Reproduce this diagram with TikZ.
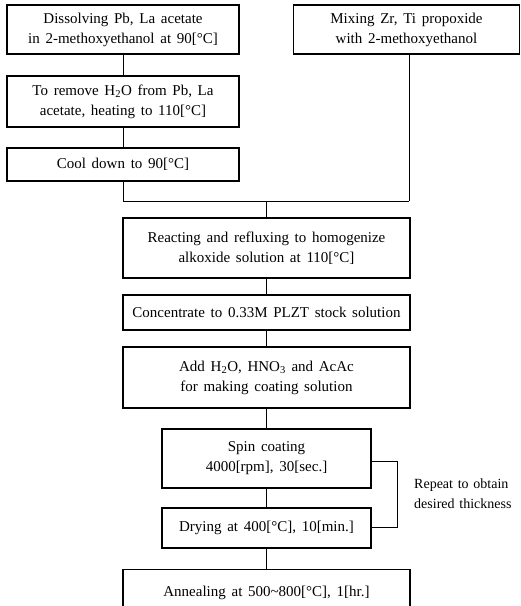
\documentclass[tikz,border=0pt]{standalone}
\usepackage{fontspec}
\setmainfont{Liberation Serif}
\newcommand{\boxfont}{\fontsize{15}{20}\selectfont\spaceskip=0.38em\relax}
\newcommand{\repfont}{\fontsize{14}{20}\selectfont\spaceskip=0.34em\relax}
\begin{document}
\begin{tikzpicture}[x=1pt,y=-1pt,
  box/.style={draw, line width=1.1pt, inner sep=0pt, align=center,
    font=\boxfont},
  conn/.style={line width=0.6pt}]
\clip (0,0) rectangle (521,606);
\fill[white] (0,0) rectangle (521,606);
\node[box, minimum width=232pt, minimum height=49pt] (b1) at (123,29.5)
  {Dissolving Pb, La acetate\\in 2-methoxyethanol at 90[°C]};
\node[box, minimum width=232pt, minimum height=51pt] (b2) at (123,101.5)
  {To remove H\textsubscript{2}O from Pb, La\\acetate, heating to 110[°C]};
\node[box, minimum width=232pt, minimum height=33pt] (b3) at (123,164.5)
  {Cool down to 90[°C]};
\node[box, minimum width=226pt, minimum height=49pt] (m) at (406.5,29.5)
  {Mixing Zr, Ti propoxide\\with 2-methoxyethanol};
\node[box, minimum width=287pt, minimum height=60pt] (r) at (266.5,248)
  {Reacting and refluxing to homogenize\\alkoxide solution at 110[°C]};
\node[box, minimum width=287pt, minimum height=35pt] (c) at (266.5,312.5)
  {Concentrate to 0.33M PLZT stock solution};
\node[box, minimum width=287pt, minimum height=61pt] (a) at (266.5,377.5)
  {Add H\textsubscript{2}O, HNO\textsubscript{3} and AcAc\\for making coating solution};
\node[box, minimum width=209pt, minimum height=59pt] (s) at (266.5,458.5)
  {Spin coating\\4000[rpm], 30[sec.]};
\node[box, minimum width=209pt, minimum height=40pt] (d) at (266.5,528)
  {Drying at 400[°C], 10[min.]};
\node[box, minimum width=287pt, minimum height=46pt, anchor=north] (n) at (266.5,569)
  {Annealing at 500\textasciitilde800[°C], 1[hr.]};
\coordinate (jl) at (b3.south |- 0,201);
\coordinate (jr) at (409,201);
\coordinate (jc) at (r.north |- 0,201);
\draw[conn] (b1) -- (b2);
\draw[conn] (b2) -- (b3);
\draw[conn] (b3.south) -- (jl) -- (jr);
\draw[conn] (m.south -| jr) -- (jr);
\draw[conn] (jc) -- (r.north);
\draw[conn] (r) -- (c);
\draw[conn] (c) -- (a);
\draw[conn] (a) -- (s);
\draw[conn] (s) -- (d);
\draw[conn] (d) -- (n);
\coordinate (bt) at (397,461);
\coordinate (bb) at (397,527);
\draw[conn] (s.east |- bt) -- (bt) -- (bb) -- (d.east |- bb);
\node[font=\repfont, align=left, anchor=west, inner sep=0pt] (rep) at (414,494)
  {Repeat to obtain\\desired thickness};
\end{tikzpicture}
\end{document}
